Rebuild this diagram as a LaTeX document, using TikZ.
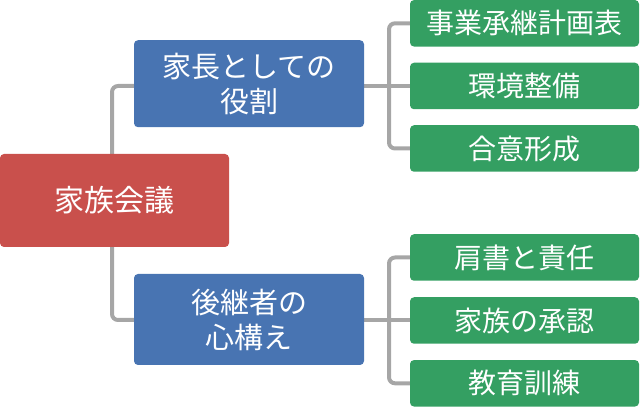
\documentclass[tikz,border=0pt]{standalone}
\usepackage{fontspec}
\usetikzlibrary{backgrounds}
\newfontfamily\jpfont{Noto Sans CJK JP}
\definecolor{cred}{RGB}{201,80,76}
\definecolor{cblue}{RGB}{72,116,178}
\definecolor{cgreen}{RGB}{52,159,98}
\definecolor{cgray}{RGB}{166,166,166}
\tikzset{
  box/.style={rounded corners=4pt, text=white, inner sep=0pt, align=center},
  redbox/.style={box, fill=cred, minimum width=229pt, minimum height=93pt,
    font=\jpfont\fontsize{30pt}{36pt}\selectfont},
  bluebox/.style={box, fill=cblue, minimum width=230pt,
    font=\jpfont\fontsize{29pt}{35pt}\selectfont},
  greenbox/.style={box, fill=cgreen, minimum width=229pt, minimum height=46.5pt,
    font=\jpfont\fontsize{28pt}{34pt}\selectfont},
  conn/.style={draw=cgray, line width=4pt, rounded corners=6pt}
}
\begin{document}
\begin{tikzpicture}[x=1pt,y=1pt]
\useasboundingbox (0,0) rectangle (640,407);
\node[redbox] (red) at (114.5,206.5) {家族会議};
\node[bluebox, minimum height=87pt] (blueT) at (249,323.3) {家長としての\\役割};
\node[bluebox, minimum height=91pt] (blueB) at (249,87.5) {後継者の\\心構え};
\node[greenbox] (g1) at (524.5,383.7) {事業承継計画表};
\node[greenbox] (g2) at (524.5,321) {環境整備};
\node[greenbox] (g3) at (524.5,258.5) {合意形成};
\node[greenbox] (g4) at (524.5,149.5) {肩書と責任};
\node[greenbox] (g5) at (524.5,86.5) {家族の承認};
\node[greenbox] (g6) at (524.5,23.7) {教育訓練};
\coordinate (lt) at (112,321);
\coordinate (lb) at (112,87);
\coordinate (bt) at (389,321);
\coordinate (bb) at (389,86.5);
\begin{scope}[on background layer]
\path[conn] (blueT.west |- lt) -- (lt) -- (lt |- red.north);
\path[conn] (lb |- red.south) -- (lb) -- (blueB.west |- lb);
\path[conn] (blueT.east |- g2.west) -- (g2.west);
\path[conn] (g1.west) -| (bt) |- (g3.west);
\path[conn] (blueB.east |- g5.west) -- (g5.west);
\path[conn] (g4.west) -| (bb) |- (g6.west);
\end{scope}
\end{tikzpicture}
\end{document}
